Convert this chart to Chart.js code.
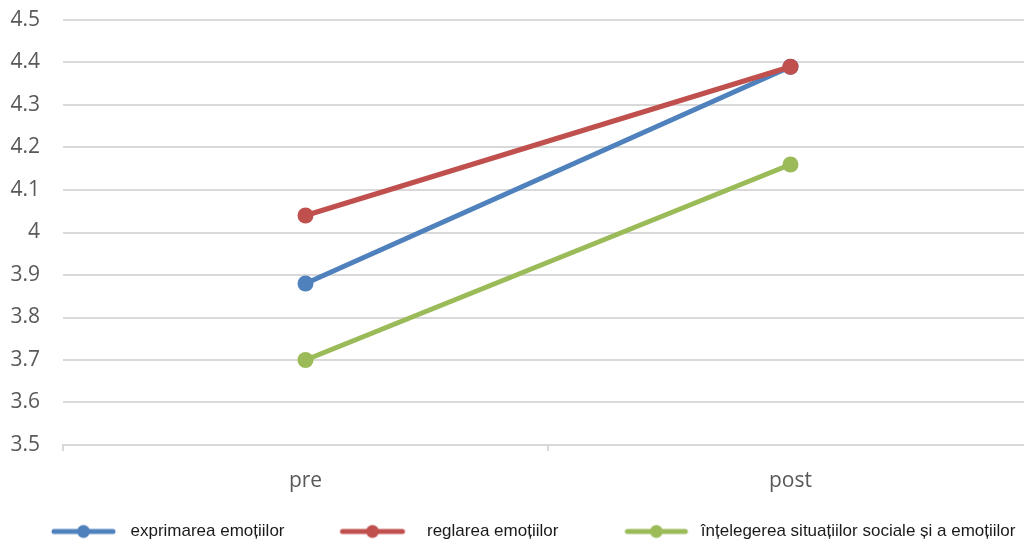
<!DOCTYPE html>
<html>
<head>
<meta charset="utf-8">
<script src="https://cdn.jsdelivr.net/npm/chart.js@4"></script>
<style>
  html, body { margin: 0; padding: 0; background: #fff; overflow: hidden; }
  canvas { display: block; }
</style>
</head>
<body>
<canvas id="myChart" width="1041" height="550"></canvas>
<script>
// categories and series
const categories = ['pre', 'post'];
const seriesNames = ['exprimarea emoțiilor', 'reglarea emoțiilor', 'înțelegerea situațiilor sociale și a emoțiilor'];
const exprimarea = [3.88, 4.39];
const reglarea = [4.04, 4.39];
const intelegerea = [3.70, 4.16];
const seriesColors = ['#4F81BD', '#C0504D', '#9BBB59'];
const yMin = 3.5, yMax = 4.5, yStep = 0.1;

// legend marker: line with a dot, drawn on a small canvas
const boxW = 126;
const legendLines = [[58, 117], [50, 110], [61, 119]]; // start/end relative to item x
function legendImage(color, a, b) {
    const c = document.createElement('canvas');
    c.width = boxW * 2;
    c.height = 20;
    const ctx = c.getContext('2d');
    const off = boxW / 2;
    ctx.strokeStyle = color;
    ctx.lineWidth = 5;
    ctx.lineCap = 'round';
    ctx.beginPath();
    ctx.moveTo(off + a, 10);
    ctx.lineTo(off + b, 10);
    ctx.stroke();
    ctx.fillStyle = color;
    ctx.beginPath();
    ctx.arc(off + (a + b) / 2, 10, 6.5, 0, Math.PI * 2);
    ctx.fill();
    return c;
}

const values = [exprimarea, reglarea, intelegerea];
const drawOrder = [2, 1, 3]; // red line sits on top of blue

const datasets = values.map((v, i) => ({
    label: seriesNames[i],
    data: v,
    borderColor: seriesColors[i],
    backgroundColor: seriesColors[i],
    pointBackgroundColor: seriesColors[i],
    pointBorderWidth: 0,
    pointRadius: 8,
    pointHoverRadius: 8,
    borderWidth: 5,
    tension: 0,
    order: drawOrder[i],
}));

const gridColor = '#d9d9d9';

new Chart(document.getElementById('myChart'), {
    type: 'line',
    data: { labels: categories, datasets: datasets },
    options: {
        responsive: false,
        animation: false,
        layout: { padding: { top: 20, left: -12, right: 0, bottom: 0 } },
        plugins: {
            tooltip: { enabled: false },
            legend: {
                position: 'bottom',
                align: 'start',
                labels: {
                    usePointStyle: true,
                    pointStyleWidth: boxW,
                    padding: 8,
                    color: '#1a1a1a',
                    font: { family: '"Liberation Sans", Arial, sans-serif', size: 17 },
                    generateLabels: (chart) => {
                        const items = Chart.defaults.plugins.legend.labels.generateLabels(chart);
                        items.sort((a, b) => a.datasetIndex - b.datasetIndex);
                        items.forEach(it => {
                            const ln = legendLines[it.datasetIndex];
                            it.pointStyle = legendImage(seriesColors[it.datasetIndex], ln[0], ln[1]);
                        });
                        return items;
                    },
                },
            },
        },
        scales: {
            x: {
                offset: true,
                afterFit: (s) => { s.height = 70; s.paddingLeft = 0; s.paddingRight = 0; },
                grid: {
                    offset: true,
                    drawOnChartArea: false,
                    drawTicks: true,
                    tickLength: 6,
                    color: gridColor,
                    lineWidth: 2,
                },
                border: { display: true, color: gridColor, width: 2 },
                ticks: {
                    padding: 17,
                    color: '#595959',
                    font: { family: '"Open Sans", sans-serif', size: 21 },
                },
            },
            y: {
                min: yMin,
                max: yMax,
                afterFit: (s) => { s.width = 75; s.paddingTop = 0; s.paddingBottom = 0; },
                grid: { color: gridColor, lineWidth: 2, drawTicks: false },
                border: { display: false },
                ticks: {
                    stepSize: yStep,
                    padding: 23,
                    color: '#595959',
                    font: { family: '"Open Sans", sans-serif', size: 21 },
                    callback: (v) => String(parseFloat(Number(v).toFixed(1))),
                },
            },
        },
    },
});
</script>
</body>
</html>
